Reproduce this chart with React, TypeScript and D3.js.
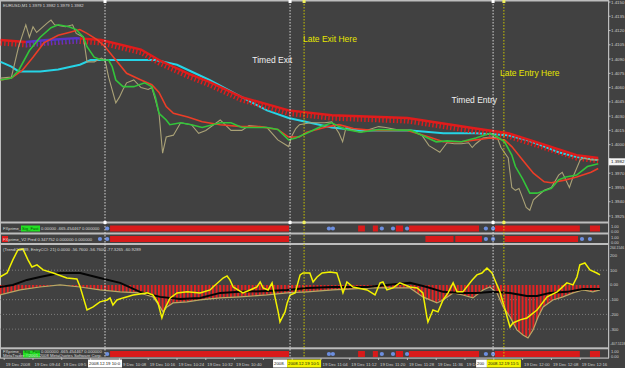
import React, { useEffect, useRef } from 'react';
import * as d3 from 'd3';

type P = [number, number];

// x values are minutes after 09:36 (M1 bars), main-panel values are EURUSD prices
const closeLine: P[] = [
  [-1, 1.4070], [2, 1.4071], [4, 1.4103], [6, 1.4126], [7, 1.4113], [8, 1.4124], [9, 1.4118], [12, 1.4128],
  [13, 1.4131], [14, 1.4126], [17, 1.4124], [19, 1.4126], [20, 1.4117], [22, 1.4113], [23, 1.4087], [25, 1.4087],
  [27, 1.4091], [28, 1.4089], [29, 1.4071], [31, 1.4044], [32, 1.4050], [33, 1.4058], [34, 1.4065], [36, 1.4068],
  [38, 1.4060], [40, 1.4058], [41, 1.4060], [42, 1.4047], [43, 1.4033], [44, 1.3991], [45, 1.4008], [47, 1.4010],
  [49, 1.4023], [52, 1.4021], [54, 1.4012], [56, 1.4015], [60, 1.4026], [63, 1.4015], [66, 1.4015], [68, 1.4020],
  [73, 1.4018], [76, 1.4005], [79, 1.3998], [80, 1.4010], [81, 1.4017], [82, 1.4021], [85, 1.4023], [89, 1.4023],
  [91, 1.4024], [93, 1.4012], [94, 1.4003], [95, 1.4019], [97, 1.4015], [99, 1.4013], [104, 1.4019], [106, 1.4018],
  [110, 1.4015], [113, 1.4015], [116, 1.4010], [118, 1.3999], [121, 1.3992], [123, 1.4002], [125, 1.4001],
  [127, 1.4001], [129, 1.4002], [130, 1.3997], [131, 1.4001], [133, 1.4007], [135, 1.4008], [137, 1.4007],
  [138, 1.3997], [140, 1.3986], [141, 1.3955], [142, 1.3952], [143, 1.3954], [145, 1.3934], [146, 1.3931],
  [147, 1.3942], [150, 1.3952], [152, 1.3955], [154, 1.3968], [155, 1.3971], [157, 1.3955], [158, 1.3966],
  [160, 1.3984], [161, 1.3986], [163, 1.3984], [165, 1.3984],
];

const fastMa: P[] = [
  [-1, 1.4068], [2, 1.4070], [4, 1.4078], [7, 1.4099], [10, 1.4113], [13, 1.4123], [15, 1.4126], [18, 1.4124],
  [20, 1.4121], [22, 1.4113], [23, 1.4103], [25, 1.4092], [27, 1.4089], [29, 1.4089], [30, 1.4082], [31, 1.4068],
  [33, 1.4061], [36, 1.4061], [39, 1.4065], [41, 1.4061], [42, 1.4050], [43, 1.4033], [45, 1.4026], [46, 1.4021],
  [49, 1.4023], [52, 1.4021], [55, 1.4018], [60, 1.4023], [63, 1.4023], [66, 1.4018], [73, 1.4018], [76, 1.4016],
  [79, 1.4005], [81, 1.4007], [84, 1.4012], [88, 1.4019], [91, 1.4023], [93, 1.4019], [95, 1.4016], [99, 1.4013],
  [104, 1.4016], [113, 1.4015], [116, 1.4010], [120, 1.4003], [123, 1.4004], [127, 1.4003], [131, 1.4007],
  [135, 1.4012], [137, 1.4008], [139, 1.4003], [141, 1.3989], [142, 1.3977], [144, 1.3964], [146, 1.3949],
  [148, 1.3949], [152, 1.3954], [154, 1.3963], [156, 1.3966], [159, 1.3968], [162, 1.3977], [165, 1.3980],
];

const slowMa: P[] = [
  [-1, 1.4068], [2, 1.4070], [5, 1.4078], [8, 1.4092], [11, 1.4107], [15, 1.4115], [18, 1.4118], [21, 1.4121],
  [23, 1.4117], [26, 1.4110], [28, 1.4103], [31, 1.4089], [34, 1.4075], [38, 1.4068], [41, 1.4063], [43, 1.4055],
  [45, 1.4040], [47, 1.4033], [51, 1.4029], [55, 1.4024], [60, 1.4021], [66, 1.4019], [71, 1.4019], [76, 1.4016],
  [79, 1.4008], [82, 1.4008], [84, 1.4013], [90, 1.4019], [93, 1.4021], [97, 1.4017], [102, 1.4015], [112, 1.4015],
  [118, 1.4008], [122, 1.4003], [127, 1.4003], [131, 1.4005], [135, 1.4007], [139, 1.4005], [141, 1.3998],
  [144, 1.3984], [147, 1.3970], [150, 1.3961], [152, 1.3960], [156, 1.3963], [159, 1.3966], [163, 1.3971], [165, 1.3975],
];

const longMa: P[] = [
  [-1, 1.4087], [2, 1.4082], [4, 1.4077], [10, 1.4077], [15, 1.4079], [21, 1.4084], [24, 1.4089], [27, 1.4089],
  [36, 1.4089], [42, 1.4089], [48, 1.4084], [57, 1.4068], [66, 1.4050], [73, 1.4036], [79, 1.4028], [85, 1.4023],
  [91, 1.4018], [99, 1.4015], [113, 1.4015], [122, 1.4012], [131, 1.4012], [140, 1.4010], [145, 1.4005],
  [150, 1.3998], [154, 1.3992], [159, 1.3987], [165, 1.3984],
];

const ribbon: P[] = [
  [-1, 1.4110], [6, 1.4108], [12, 1.4110], [20, 1.4112], [27, 1.4110], [38, 1.4100], [43, 1.4089], [51, 1.4075],
  [57, 1.4066], [66, 1.4050], [79, 1.4036], [91, 1.4031], [112, 1.4028], [131, 1.4017], [140, 1.4012],
  [150, 1.4000], [159, 1.3989], [165, 1.3986],
];
const ribbonUpFrom = 6;
const ribbonUpTo = 21;

// CCI panel
const cciEntry: P[] = [
  [-1.2, 54], [0.8, 81], [2.4, 170], [3.8, 237], [5.2, 244], [6.6, 170], [7.7, 122], [9.1, 136], [10.8, 102],
  [13.6, 81], [17.4, 47], [20.2, 41], [21.1, -14], [23, -170], [24.7, -149], [26.6, -115], [28.6, -102],
  [29.4, -88], [30.2, -136], [31.3, -102], [33, -88], [35.8, -68], [39.7, -54], [41.3, -68], [42.7, -122],
  [43.8, -224], [44.7, -156], [46.1, -88], [48, -54], [50.8, -47], [54.4, -54], [57.2, -34], [58, -14],
  [60.8, 47], [61.9, 61], [62.7, 34], [63.6, -14], [66.3, -54], [68.3, -34], [70.2, -14], [71.1, 20],
  [71.9, -20], [73.3, -34], [74.4, 14], [75.2, -81], [76.1, -183], [76.6, -251], [78, -183], [78.6, -122],
  [79.4, -68], [80.8, -54], [82.2, 68], [83, 81], [84.9, 81], [85.8, 20], [86.9, 54], [88.3, 81], [90.5, 88],
  [92.4, 81], [93.3, 14], [94.1, -54], [95.2, 20], [96.9, -14], [100.8, -34], [103, -68], [104.4, 14],
  [105.2, 20], [106.3, -34], [108, -20], [109.9, 14], [112.7, -14], [114.7, -20], [116.3, -54], [117.4, -217],
  [117.7, -251], [119.1, -170], [120.5, -183], [121.9, -102], [123.3, -54], [124.7, 14], [125.8, -47],
  [127.4, -47], [130, 34], [131.3, 68], [132.7, 81], [134.1, 115], [135.5, 81], [136.3, 34], [137.7, -47],
  [139.7, -217], [140.5, -285], [141.3, -258], [143.3, -237], [145.2, -224], [148, -170], [150.8, -81],
  [153.6, -47], [156.3, 14], [158, 0], [159.1, 54], [159.9, 136], [161.3, 149], [162.7, 102], [164.6, 81], [165.5, 68],
];

const cciTrend: P[] = [
  [-1.2, -68], [4.4, -34], [9.9, -14], [15.5, 0], [21.1, -14], [26.6, -34], [32.2, -47], [37.7, -54],
  [41.3, -81], [43.3, -149], [44.1, -183], [45.2, -149], [46.9, -122], [50.8, -115], [54.4, -102], [57.2, -95],
  [60, -88], [65.5, -81], [73, -68], [78.6, -54], [84.1, -47], [91.3, -34], [96.9, -27], [102.4, -20],
  [108, -20], [112.7, -20], [116.3, -81], [120.2, -122], [121.9, -102], [124.7, -54], [127.4, -68],
  [130.2, -88], [133, -34], [134.9, -14], [136.9, -54], [138.6, -149], [140.5, -217], [142.4, -305],
  [144.1, -339], [145.5, -360], [146.9, -305], [148.3, -217], [149.7, -149], [152.4, -102], [155.2, -81],
  [158, -54], [160.8, -34], [163.5, -47], [165.5, -34],
];

const cciAvg: P[] = [
  [-1.2, -14], [2.4, 0], [6.3, 34], [9.9, 54], [15.5, 81], [21.1, 81], [26.6, 47], [32.2, 14], [37.7, -47],
  [43.3, -81], [48.8, -95], [54.4, -88], [60, -54], [65.5, -47], [73, -41], [78.6, -34], [84.1, -20],
  [91.3, -14], [100.8, -14], [106.3, 0], [112.7, 14], [117.4, -14], [121.9, -47], [126.6, -54], [131.3, -54],
  [135.8, -47], [140.5, -54], [145.2, -75], [148, -75], [151.6, -54], [156.3, -47], [160.8, -27], [165.5, -27],
];

// signal strips: [from, to] minutes for red blocks, minutes for blue dots
const sigBarsA: P[] = [[29.4, 79.1], [98.3, 100.2], [102.4, 103.8], [108.8, 110.8], [112.4, 131.9], [136.3, 159.9], [162.7, 165.5]];
const sigDotsA = [28.6, 90.2, 91.3, 104.9, 108, 111.9, 133.8, 135.8];
const sigBarsB: P[] = [[29.4, 79.1], [117, 124.8], [125.3, 132.7], [139, 159.4]];
const sigDotsB = [26.6, 28.6, 133.8, 135.8, 160.5, 162.7];

const priceTicks = ['1.4150', '1.4135', '1.4120', '1.4105', '1.4090', '1.4075', '1.4060', '1.4045', '1.4030',
  '1.4015', '1.4000', '1.3985', '1.3970', '1.3955', '1.3940', '1.3925'];
const lastPrice = 1.3982;
const cciTicks = ['264.1546', '200', '100', '0.00', '-100', '-200', '-300', '-407.5118'];
const cciLevels = [100, -100, -200, -300];
const timeTicks = ['19 Dec 2008', '19 Dec 09:44', '19 Dec 09:52', '19 Dec 10:00', '19 Dec 10:08', '19 Dec 10:16',
  '19 Dec 10:24', '19 Dec 10:32', '19 Dec 10:40', '19 Dec 10:48', '19 Dec 10:56', '19 Dec 11:04', '19 Dec 11:12',
  '19 Dec 11:20', '19 Dec 11:28', '19 Dec 11:36', '19 Dec 11:44', '19 Dec 11:52', '19 Dec 12:00', '19 Dec 12:08',
  '19 Dec 12:16'];

const markerTimes = [28, 79.4, 83.3, 135.8, 138.8];
const markerLabels = ['2008.12.19 10:04', '2008.12.19 10:55', '2008.12.19 10:59', '2008.12.19 11:52', '2008.12.19 11:55'];
const markerYellow = [false, false, true, false, true];

const noteTexts = ['Timed Exit', 'Late Exit Here', 'Timed Entry', 'Late Entry Here'];
const noteTimes = [80, 83, 136.9, 137.7];
const notePrices = [1.4086, 1.4108, 1.4044, 1.4072];
const noteAnchors = ['end', 'start', 'end', 'start'];
const noteYellow = [false, true, false, true];

const FONT = 'Liberation Sans, Arial, sans-serif';
const GRID = '#bdbdbd';
const AXIS_TXT = '#cfcfcf';

export default function App() {
  const ref = useRef<SVGSVGElement>(null);

  useEffect(() => {
    if (!ref.current) return;
    const svg = d3.select(ref.current);
    svg.selectAll('*').remove();

    const right = 608;
    const x = d3.scaleLinear().domain([-1.17, 167.72]).range([0, right]);
    const y = d3.scaleLinear().domain([1.3925, 1.4150]).range([216, 2]);
    const yc = d3.scaleLinear().domain([-407.5118, 264.1546]).range([345, 246]);

    svg.append('rect').attr('width', 625).attr('height', 368).attr('fill', '#414141');

    const defs = svg.append('defs');
    defs.append('clipPath').attr('id', 'clip-main')
      .append('rect').attr('x', 0).attr('y', 2).attr('width', right).attr('height', 219);
    defs.append('clipPath').attr('id', 'clip-cci')
      .append('rect').attr('x', 0).attr('y', 245).attr('width', right).attr('height', 102);
    defs.append('clipPath').attr('id', 'clip-up')
      .append('rect').attr('x', x(ribbonUpFrom)).attr('y', 0).attr('width', x(ribbonUpTo) - x(ribbonUpFrom)).attr('height', 222);
    const pat = defs.append('pattern').attr('id', 'stripes')
      .attr('patternUnits', 'userSpaceOnUse')
      .attr('width', x(1) - x(0)).attr('height', 20)
      .attr('patternTransform', `translate(${x(0) - 1},0)`);
    pat.append('rect').attr('width', 2).attr('height', 20).attr('fill', '#e62222');

    // panel frames
    const hl = (yy: number, w = 2) => svg.append('rect').attr('x', 0).attr('y', yy).attr('width', right + 1).attr('height', w).attr('fill', GRID);
    hl(0, 1.5); hl(221.5); hl(232.5); hl(243); hl(347.3); hl(357.5, 1.2);
    svg.append('rect').attr('x', 0).attr('y', 0).attr('width', 1).attr('height', 358).attr('fill', GRID);
    svg.append('rect').attr('x', right).attr('y', 0).attr('width', 1.2).attr('height', 358).attr('fill', GRID);

    // main panel
    const main = svg.append('g').attr('clip-path', 'url(#clip-main)');
    const line = d3.line<P>().x(d => x(d[0])).y(d => y(d[1]));

    main.append('path').attr('d', line(longMa)).attr('fill', 'none').attr('stroke', '#26d4e6').attr('stroke-width', 2);

    const drawRibbon = (g: d3.Selection<SVGGElement, unknown, null, undefined>, color: string) => {
      g.append('path').attr('d', line(ribbon)).attr('fill', 'none').attr('stroke', color).attr('stroke-width', 2.4);
      g.append('path').attr('d', line(ribbon)).attr('transform', 'translate(0,3)')
        .attr('fill', 'none').attr('stroke', color).attr('stroke-width', 5).attr('stroke-dasharray', '1.4 2.2');
    };
    drawRibbon(main.append('g'), '#e01c1c');
    const up = main.append('g').attr('clip-path', 'url(#clip-up)');
    up.append('rect').attr('x', x(ribbonUpFrom)).attr('y', y(1.4118)).attr('width', x(ribbonUpTo) - x(ribbonUpFrom)).attr('height', 10).attr('fill', '#414141');
    drawRibbon(up, '#5a34c8');

    main.append('path').attr('d', line(closeLine)).attr('fill', 'none').attr('stroke', '#aaa277').attr('stroke-width', 1.1);
    main.append('path').attr('d', line(slowMa)).attr('fill', 'none').attr('stroke', '#ec3d27').attr('stroke-width', 1.6);
    main.append('path').attr('d', line(fastMa)).attr('fill', 'none').attr('stroke', '#33c43a').attr('stroke-width', 1.6);

    // CCI panel
    const cci = svg.append('g').attr('clip-path', 'url(#clip-cci)');
    cciLevels.forEach(v => {
      cci.append('line').attr('x1', 0).attr('x2', right).attr('y1', yc(v)).attr('y2', yc(v))
        .attr('stroke', '#8a8a8a').attr('stroke-width', 0.8).attr('stroke-dasharray', '1 2');
    });
    const cline = d3.line<P>().x(d => x(d[0])).y(d => yc(d[1]));
    const carea = d3.area<P>().x(d => x(d[0])).y0(yc(0)).y1(d => yc(d[1]));
    cci.append('path').attr('d', carea(cciTrend)).attr('fill', 'url(#stripes)');
    cci.append('path').attr('d', cline(cciTrend)).attr('fill', 'none').attr('stroke', '#b8a865').attr('stroke-width', 1.2);
    cci.append('path').attr('d', cline(cciAvg)).attr('fill', 'none').attr('stroke', '#050505').attr('stroke-width', 2);
    cci.append('path').attr('d', cline(cciEntry)).attr('fill', 'none').attr('stroke', '#f2f200').attr('stroke-width', 1.5);

    // signal strips
    const strip = (bars: P[], dots: number[], cy: number) => {
      bars.forEach(b => {
        svg.append('rect').attr('x', x(b[0])).attr('y', cy - 3).attr('width', x(b[1]) - x(b[0])).attr('height', 6).attr('fill', '#d81a1a');
      });
      dots.forEach(m => {
        svg.append('circle').attr('cx', x(m)).attr('cy', cy).attr('r', 2.1).attr('fill', '#6d8fe0');
      });
    };
    strip(sigBarsA, sigDotsA, 228.5);
    strip(sigBarsB, sigDotsB, 239);
    strip(sigBarsA, sigDotsA, 354);

    // vertical markers
    markerTimes.forEach((m, i) => {
      const col = markerYellow[i] ? '#c9c400' : '#d6d6d6';
      svg.append('line').attr('x1', x(m)).attr('x2', x(m)).attr('y1', 1).attr('y2', 358)
        .attr('stroke', col).attr('stroke-width', 1).attr('stroke-dasharray', '1.5 1.5');
      svg.append('rect').attr('x', x(m) - 1.5).attr('y', 0).attr('width', 3).attr('height', 3).attr('fill', markerYellow[i] ? '#f0f060' : '#ffffff');
      svg.append('rect').attr('x', x(m) - 1.5).attr('y', 221).attr('width', 3).attr('height', 3).attr('fill', markerYellow[i] ? '#f0f060' : '#ffffff');
    });

    // notes
    noteTexts.forEach((t, i) => {
      svg.append('text').attr('x', x(noteTimes[i])).attr('y', y(notePrices[i]))
        .attr('text-anchor', noteAnchors[i]).attr('font-family', FONT).attr('font-size', 8.5)
        .attr('fill', noteYellow[i] ? '#e6e600' : '#f0f0f0').text(t);
    });

    // right price axis (the current-price box hides the label under it)
    priceTicks.forEach(t => {
      const yy = y(+t);
      svg.append('line').attr('x1', right).attr('x2', right + 2.5).attr('y1', yy).attr('y2', yy).attr('stroke', GRID);
      if (Math.abs(yy - y(lastPrice)) < 6) return;
      svg.append('text').attr('x', right + 3).attr('y', yy + 1.6).attr('font-family', FONT).attr('font-size', 4.4)
        .attr('fill', AXIS_TXT).text(t);
    });
    svg.append('rect').attr('x', right + 1).attr('y', y(lastPrice) - 3.5).attr('width', 16).attr('height', 7).attr('fill', '#f4f4f4');
    svg.append('text').attr('x', right + 3).attr('y', y(lastPrice) + 1.6).attr('font-family', FONT).attr('font-size', 4.4)
      .attr('fill', '#111').text(lastPrice.toFixed(4));

    // right CCI axis
    cciTicks.forEach((t, i) => {
      const v = parseFloat(t);
      const edge = i === 0 || i === cciTicks.length - 1;
      const yy = i === 0 ? 247 : (i === cciTicks.length - 1 ? 343 : yc(v));
      svg.append('text').attr('x', right + 2).attr('y', yy + 1.5).attr('font-family', FONT).attr('font-size', edge ? 3.4 : 4.2)
        .attr('fill', AXIS_TXT).text(t);
    });
    [[226, '1.00'], [231, '0.00'], [237, '1.00'], [242, '0.00'], [351, '1.00'], [356, '0.00']].forEach(([yy, t]) => {
      svg.append('text').attr('x', right + 3).attr('y', (yy as number) + 1.5).attr('font-family', FONT).attr('font-size', 4)
        .attr('fill', AXIS_TXT).text(t as string);
    });

    // time axis: marker boxes hide the tick labels under them
    const boxes = markerTimes.map((m, i) => {
      const next = markerTimes[i + 1];
      const x0 = x(m) - 17;
      let x1 = x(m) + 17;
      if (next !== undefined && x(next) - 17 < x1) x1 = x(next) - 17;
      return [x0, x1];
    });
    const hitBox = (a: number, b: number) => boxes.find(bx => a < bx[1] && b > bx[0]);
    const textLen = (s: string) => {
      const probe = svg.append('text').attr('font-family', FONT).attr('font-size', 4.3).text(s);
      const l = (probe.node() as SVGTextElement).getComputedTextLength();
      probe.remove();
      return l;
    };

    timeTicks.forEach((t, i) => {
      const xx = x(i * 8);
      svg.append('line').attr('x1', xx).attr('x2', xx).attr('y1', 358).attr('y2', 360).attr('stroke', GRID);
      const start = xx + 1.5;
      const full = textLen(t);
      const bx = hitBox(start, start + full);
      let s = t;
      let at = start;
      if (bx) {
        if (start >= bx[0] - 0.5) {
          // only the tail after the box stays visible
          at = bx[1] + 1;
          while (s.length > 0 && (at + textLen(s) > start + full || hitBox(at + 0.5, at + textLen(s)))) s = s.slice(1);
        } else {
          while (s.length > 0 && start + textLen(s) > bx[0] - 0.5) s = s.slice(0, -1);
        }
      }
      if (s.trim().length < 3) return;
      svg.append('text').attr('x', at).attr('y', 365.5).attr('font-family', FONT).attr('font-size', 4.3)
        .attr('fill', AXIS_TXT).text(s);
    });

    markerTimes.forEach((m, i) => {
      const [x0, x1] = boxes[i];
      svg.append('rect').attr('x', x0).attr('y', 359.5).attr('width', x1 - x0).attr('height', 8)
        .attr('fill', markerYellow[i] ? '#f2f200' : '#ffffff');
      let s = markerLabels[i];
      while (s.length > 0 && textLen(s) > x1 - x0 - 1.5) s = s.slice(0, -1);
      svg.append('text').attr('x', x0 + 1).attr('y', 365.3).attr('font-family', FONT)
        .attr('font-size', 4.3).attr('fill', '#111').text(s);
    });

    // panel captions
    const cap = (xx: number, yy: number, t: string, fill = '#d8d8d8') =>
      svg.append('text').attr('x', xx).attr('y', yy).attr('font-family', FONT).attr('font-size', 4.2).attr('fill', fill).text(t);
    cap(3, 6.5, 'EURUSD,M1  1.3979 1.3982 1.3979 1.3982');

    cap(3, 230, 'FXprime_');
    svg.append('rect').attr('x', 21).attr('y', 225.5).attr('width', 19).attr('height', 6).attr('fill', '#22e022');
    cap(22, 230, 'Sig_Fast', '#0a4a0a');
    cap(41, 230, '0.00000 -665.454467 0.000000');

    svg.append('rect').attr('x', 2).attr('y', 236).attr('width', 6).attr('height', 6).attr('fill', '#e01c1c');
    cap(3, 240.5, 'FXprime_V2 Pred 0.347752 0.000000 0.000000');

    cap(3, 250.5, '(TrendCCI(89, EntryCCI: 21) 0.0000 -56.7600 -56.7600 -77.3265 -60.9289');

    cap(3, 352.5, 'FXprime_');
    svg.append('rect').attr('x', 23).attr('y', 350.5).attr('width', 17).attr('height', 7).attr('fill', '#22e022');
    cap(24, 352.5, 'Sig_Fast', '#0a4a0a');
    cap(41, 352.5, '0.000000 -665.454467 0.000000');
    cap(3, 357, 'MetaTrader ©2001-2008 MetaQuotes Software Corp.');
  }, []);

  return <svg ref={ref} width={625} height={368} style={{ position: 'fixed', left: 0, top: 0 }} />;
}
